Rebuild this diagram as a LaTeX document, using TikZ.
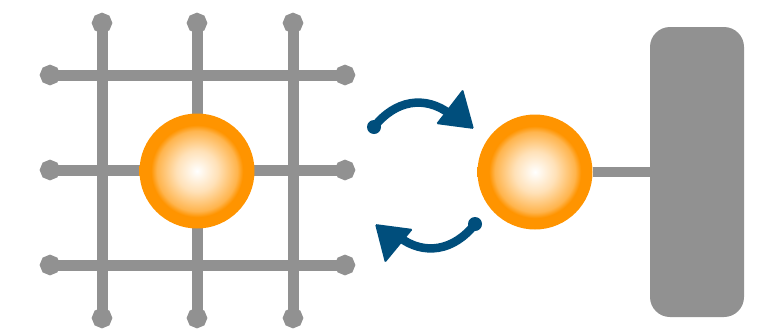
\documentclass[tikz,border=0pt]{standalone}
\usetikzlibrary{arrows.meta}

\definecolor{ballorange}{RGB}{255,148,0}
\definecolor{wiregray}{RGB}{145,145,145}
\definecolor{hopblue}{RGB}{0,78,124}

\pgfdeclareradialshading{ballshade}{\pgfpoint{0bp}{0bp}}{%
  color(0bp)=(white);
  color(9bp)=(ballorange!28);
  color(17.5bp)=(ballorange!70);
  color(20bp)=(ballorange);
  color(50bp)=(ballorange)}

\begin{document}
\begin{tikzpicture}[x=1pt,y=-1pt,
  wire/.style={draw=wiregray,line width=11pt,{Circle[length=20pt]}-{Circle[length=20pt]}},
  ball/.style={circle,minimum size=115pt,inner sep=0pt,shading=ballshade},
  hop/.style={draw=hopblue,line width=8.5pt,line cap=round}]

\useasboundingbox (0,0) rectangle (769,330);

% mesh
\draw[wire] (102,13) -- (102,328);
\draw[wire] (197,13) -- (197,328);
\draw[wire] (293,13) -- (293,328);
\draw[wire] (40,75) -- (355,75);
\draw[wire] (40,170) -- (355,170);
\draw[wire] (40,265) -- (355,265);

\node[ball] (trapped) at (197,171) {};

% free particle on the wall
\node[ball] (free) at (535,172) {};
\node[fill=wiregray,rounded corners=20pt,minimum width=94pt,minimum height=290pt,inner sep=0pt] (wall) at (697,172) {};
\draw[draw=wiregray,line width=10pt] (free.east) -- (wall.west);

% exchange arrows
\coordinate (upTail) at (374,127);
\coordinate (upEnd) at (450,114);
\coordinate (lowTail) at (475,224);
\coordinate (lowEnd) at (399,237);

\draw[hop] (upTail) .. controls (395,100) and (425,95) .. (upEnd);
\fill[hopblue] (upTail) circle (7pt);
\fill[hopblue,rounded corners=1.5pt] (463,89) -- (474,129) -- (436,124) -- cycle;

\draw[hop] (lowTail) .. controls (454,251) and (424,256) .. (lowEnd);
\fill[hopblue] (lowTail) circle (7pt);
\fill[hopblue,rounded corners=1.5pt] (385,263) -- (375,224) -- (413,229) -- cycle;

\end{tikzpicture}
\end{document}
